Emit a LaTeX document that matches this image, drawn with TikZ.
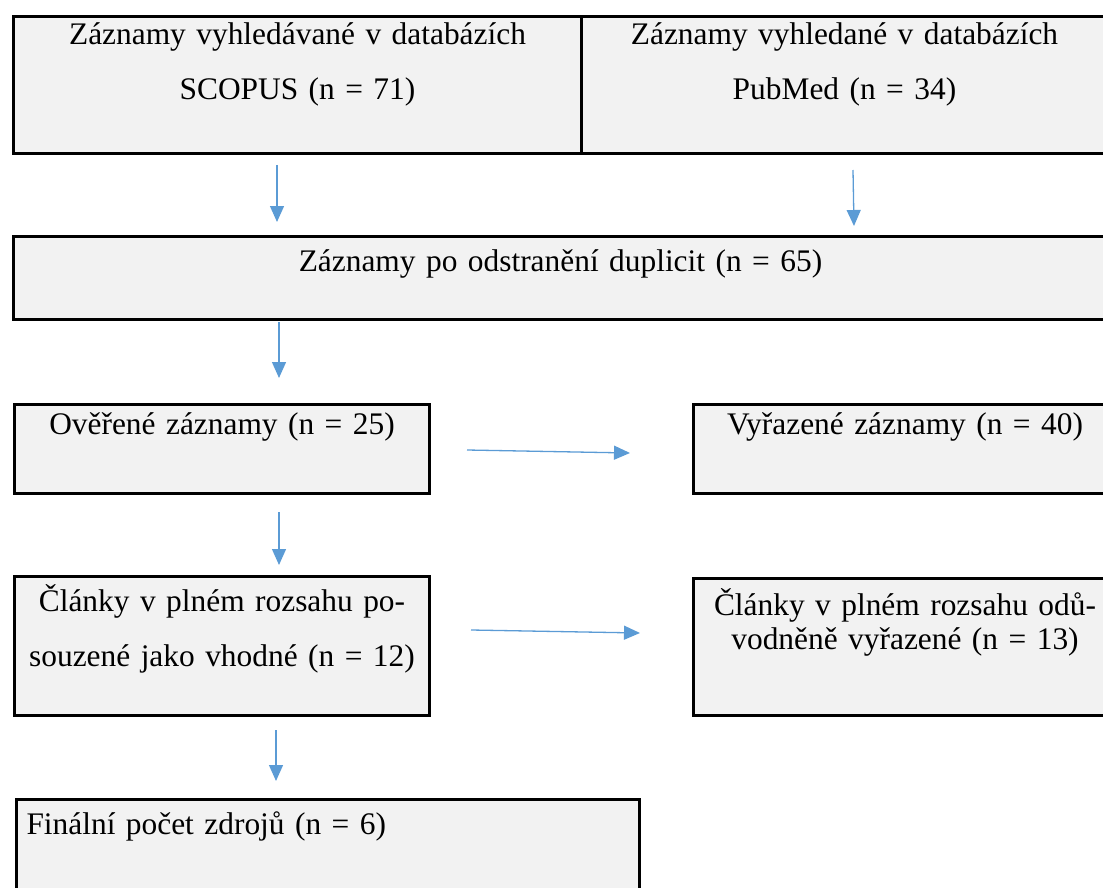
\documentclass[tikz,border=0pt]{standalone}
\usepackage{fontspec}
\setmainfont{Liberation Serif}
\usepackage{xcolor}
\usetikzlibrary{arrows.meta, positioning}
\definecolor{boxgray}{HTML}{F2F2F2}
\definecolor{arrowblue}{HTML}{5B9BD5}

\begin{document}
\begin{tikzpicture}[x=0.5pt, y=-0.5pt,
    box/.style={rectangle, draw, line width=1.5pt, fill=boxgray, inner sep=0pt, anchor=north west, align=center, font=\fontsize{15.7}{27.5}\selectfont},
    arrow/.style={-{Triangle[width=7pt,length=8pt]}, line width=0.65pt, draw=arrowblue}
]
\useasboundingbox (0,0) rectangle (1103,888);

% Components
\node[box, text width=284pt, text height=14pt, text depth=54.5pt] (scopus) at (12,15) {Záznamy vyhledávané v databázích\\SCOPUS (n = 71)};
\node[box, text width=263pt, text height=14pt, text depth=54.5pt] (pubmed) at (580,15) {Záznamy vyhledané v databázích\\PubMed (n = 34)};
\node[box, text width=547pt, text height=17.5pt, text depth=24pt] (dedup) at (12,235) {Záznamy po odstranění duplicit (n = 65)};
\node[box, text width=207.5pt, text height=15pt, text depth=29.5pt] (overene) at (13,403) {Ověřené záznamy (n = 25)};
\node[box, text width=211.5pt, text height=15pt, text depth=29.5pt] (vyrazene) at (692,403) {Vyřazené záznamy (n = 40)};
\node[box, text width=207.5pt, text height=17.5pt, text depth=52pt] (vhodne) at (13,575) {Články v plném rozsahu po-\\souzené jako vhodné (n = 12)};
\node[box, text width=211.5pt, text height=18.5pt, text depth=50pt, font=\fontsize{15.7}{17}\selectfont] (odvodnene) at (692,577) {Články v plném rozsahu odů-\\vodněně vyřazené (n = 13)};
\node[box, text width=301.5pt, inner xsep=5pt, align=left, text height=17.5pt, text depth=33.5pt] (final) at (15,798) {Finální počet zdrojů (n = 6)};

% Arrow ends
\coordinate (scopus-out) at (277,165);
\coordinate (scopus-in) at (277,222);
\coordinate (pubmed-out) at (853,170);
\coordinate (pubmed-in) at (854,226);
\coordinate (dedup-out) at (279,322);
\coordinate (dedup-in) at (279,378);
\coordinate (overene-out) at (467,450);
\coordinate (overene-in) at (630,453);
\coordinate (check-out) at (279,512);
\coordinate (check-in) at (279,565);
\coordinate (vhodne-out) at (471,630);
\coordinate (vhodne-in) at (640,633);
\coordinate (final-out) at (276,730);
\coordinate (final-in) at (276,781);

% Arrows
\draw[arrow] (scopus-out) -- (scopus-in);
\draw[arrow] (pubmed-out) -- (pubmed-in);
\draw[arrow] (dedup-out) -- (dedup-in);
\draw[arrow] (overene-out) -- (overene-in);
\draw[arrow] (check-out) -- (check-in);
\draw[arrow] (vhodne-out) -- (vhodne-in);
\draw[arrow] (final-out) -- (final-in);

\end{tikzpicture}
\end{document}
